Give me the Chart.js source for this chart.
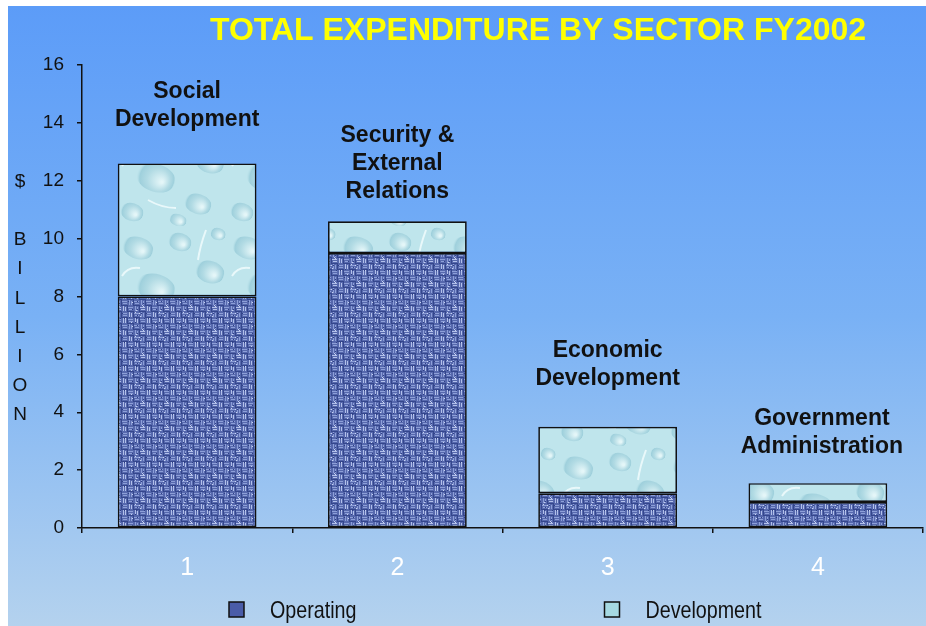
<!DOCTYPE html>
<html>
<head>
<meta charset="utf-8">
<title>Total Expenditure by Sector FY2002</title>
<script src="https://cdn.jsdelivr.net/npm/chart.js@4.4.1/dist/chart.umd.min.js"></script>
<style>
    html, body { margin: 0; padding: 0; background: #ffffff; }
    #wrap { position: absolute; left: 8px; top: 6px; width: 918px; height: 620px; }
</style>
</head>
<body>
<div id="wrap"><canvas id="sectorChart" width="918" height="620"></canvas></div>
<script>
// Chart data
const categories = ['1', '2', '3', '4'];
const sectorNames = [
    ['Social', 'Development'],
    ['Security &', 'External', 'Relations'],
    ['Economic', 'Development'],
    ['Government', 'Administration']
];
const operating = [8.0, 9.5, 1.2, 0.9];
const development = [4.6, 1.1, 2.3, 0.65];
const seriesNames = ['Operating', 'Development'];
const yMin = 0;
const yMax = 16;
const yStep = 2;
const chartTitle = 'TOTAL EXPENDITURE BY SECTOR FY2002';
const axisTitle = ['$', '', 'B', 'I', 'L', 'L', 'I', 'O', 'N'];

const SANS = '"Liberation Sans", Arial, sans-serif';

// small integer hash, used only to vary the texture pixels
function hash(x, y) {
    let h = (x * 374761393 + y * 668265263) | 0;
    h = (h ^ (h >>> 13)) * 1274126177;
    return ((h ^ (h >>> 16)) >>> 0) % 1000 / 1000;
}

// Woven blue texture for the operating part
function makeWovenPattern() {
    const c = document.createElement('canvas');
    c.width = 24; c.height = 24;
    const g = c.getContext('2d');
    g.fillStyle = '#5668ad';
    g.fillRect(0, 0, 24, 24);
    for (let by = 0; by < 4; by++) {
        for (let bx = 0; bx < 4; bx++) {
            const x = bx * 6, y = by * 6;
            const r = hash(bx, by);
            g.fillStyle = r > 0.5 ? '#b2c0ea' : '#8d9fd8';
            if ((bx + by) % 2 === 0) {
                g.fillRect(x, y + 1, 5, 1);
                g.fillRect(x + 1, y + 3, 4, 1);
                g.fillStyle = '#34468c';
                g.fillRect(x, y + 5, 6, 1);
            } else {
                g.fillRect(x + 1, y, 1, 5);
                g.fillRect(x + 3, y + 1, 1, 4);
                g.fillStyle = '#34468c';
                g.fillRect(x + 5, y, 1, 6);
            }
        }
    }
    for (let i = 0; i < 24; i++) {
        const px = Math.floor(hash(i, 7) * 24), py = Math.floor(hash(3, i) * 24);
        g.fillStyle = hash(i, i) > 0.5 ? '#c8d3f2' : '#2e3f86';
        g.fillRect(px, py, 1, 1);
    }
    return g.createPattern(c, 'repeat');
}

// Light water-drop texture for the development part
function makeWaterPattern() {
    const c = document.createElement('canvas');
    c.width = 110; c.height = 110;
    const g = c.getContext('2d');
    g.fillStyle = '#bfe5ec';
    g.fillRect(0, 0, 110, 110);
    const drops = [[20, 22, 16, 11], [62, 16, 12, 9], [92, 46, 15, 11], [38, 62, 20, 14],
                   [80, 88, 14, 10], [14, 96, 12, 9], [60, 104, 9, 6], [100, 8, 8, 6]];
    drops.forEach(function (d) {
        const grad = g.createRadialGradient(d[0] + d[2] * 0.3, d[1] + d[3] * 0.3, 1, d[0], d[1], d[2]);
        grad.addColorStop(0, '#e4f6f8');
        grad.addColorStop(0.55, '#b2dbe4');
        grad.addColorStop(0.85, '#9fd0dc');
        grad.addColorStop(1, 'rgba(191,229,236,0)');
        g.fillStyle = grad;
        g.beginPath();
        g.ellipse(d[0], d[1], d[2], d[3], 0.3, 0, Math.PI * 2);
        g.fill();
    });
    g.strokeStyle = 'rgba(240,252,253,0.85)';
    g.lineWidth = 2;
    g.beginPath();
    g.moveTo(88, 4); g.quadraticCurveTo(82, 20, 80, 34);
    g.moveTo(30, 84); g.quadraticCurveTo(44, 92, 58, 92);
    g.moveTo(4, 50); g.quadraticCurveTo(10, 40, 22, 42);
    g.stroke();
    return g.createPattern(c, 'repeat');
}

const operatingFill = makeWovenPattern();
const developmentFill = makeWaterPattern();

// Background gradient, title, axis title, sector names and legend
const decorations = {
    id: 'decorations',
    beforeDraw(chart) {
        const ctx = chart.ctx;
        const grad = ctx.createLinearGradient(0, 0, 0, chart.height);
        grad.addColorStop(0, '#5c9cf8');
        grad.addColorStop(0.5, '#79b1f5');
        grad.addColorStop(1, '#b4d2ee');
        ctx.save();
        ctx.fillStyle = grad;
        ctx.fillRect(0, 0, chart.width, chart.height);
        ctx.restore();
    },
    afterDatasetsDraw(chart, args, opts) {
        const ctx = chart.ctx;
        const area = chart.chartArea;
        ctx.save();

        // title
        ctx.fillStyle = '#ffff00';
        ctx.font = 'bold 32px ' + SANS;
        ctx.textAlign = 'center';
        ctx.textBaseline = 'alphabetic';
        ctx.fillText(chartTitle, opts.titleX, opts.titleY);

        // vertical axis title, one letter per line
        ctx.fillStyle = '#111111';
        ctx.font = '19px ' + SANS;
        const mid = (area.top + area.bottom) / 2;
        const lh = 29.2;
        axisTitle.forEach(function (ch, i) {
            const y = mid + (i - (axisTitle.length - 1) / 2) * lh;
            ctx.fillText(ch, opts.axisTitleX, y + 7);
        });

        // sector names above the stacked bars
        const meta = chart.getDatasetMeta(chart.data.datasets.length - 1);
        ctx.font = 'bold 23px ' + SANS;
        meta.data.forEach(function (bar, i) {
            const lines = sectorNames[i];
            const base = bar.y - opts.lift[i];
            lines.forEach(function (line, j) {
                const cy = base - (lines.length - 1 - j) * opts.lineHeight;
                ctx.fillText(line, bar.x + opts.shift[i], cy + 8.2);
            });
        });

        // legend, text condensed like the original narrow face
        chart.data.datasets.forEach(function (ds, i) {
            const bx = opts.legendX[i];
            const by = opts.legendY;
            ctx.fillStyle = opts.legendFill[i];
            ctx.fillRect(bx - 7.5, by - 7.5, 15, 15);
            ctx.strokeStyle = '#111111';
            ctx.lineWidth = 1.5;
            ctx.strokeRect(bx - 7.5, by - 7.5, 15, 15);
            ctx.save();
            ctx.translate(bx + 33.5, by + 8.5);
            ctx.scale(0.82, 1);
            ctx.font = '24px ' + SANS;
            ctx.textAlign = 'left';
            ctx.fillStyle = '#111111';
            ctx.fillText(ds.label, 0, 0);
            ctx.restore();
        });
        ctx.restore();
    }
};

const ctx = document.getElementById('sectorChart').getContext('2d');
const sectorChart = new Chart(ctx, {
    type: 'bar',
    data: {
        labels: categories,
        datasets: [{
            label: seriesNames[0],
            data: operating,
            backgroundColor: operatingFill,
            borderColor: '#111111',
            borderWidth: 1.7,
            borderSkipped: false,
            categoryPercentage: 1,
            barPercentage: 0.66
        }, {
            label: seriesNames[1],
            data: development,
            backgroundColor: developmentFill,
            borderColor: '#111111',
            borderWidth: 1.7,
            borderSkipped: false,
            categoryPercentage: 1,
            barPercentage: 0.66
        }]
    },
    options: {
        responsive: false,
        animation: false,
        devicePixelRatio: 1,
        layout: {
            padding: { top: 59, right: 3, bottom: 38, left: 0 }
        },
        scales: {
            x: {
                stacked: true,
                afterFit: function (scale) { scale.height = 60; },
                grid: {
                    offset: true,
                    drawOnChartArea: false,
                    drawTicks: true,
                    tickLength: 5,
                    color: '#111111',
                    lineWidth: 1.5
                },
                border: { color: '#111111', width: 1.5 },
                ticks: {
                    color: '#ffffff',
                    padding: 20,
                    font: { family: SANS, size: 25 }
                }
            },
            y: {
                stacked: true,
                min: yMin,
                max: yMax,
                afterFit: function (scale) { scale.width = 74; },
                grid: {
                    drawOnChartArea: false,
                    drawTicks: true,
                    tickLength: 5,
                    color: '#111111',
                    lineWidth: 1.5
                },
                border: { color: '#111111', width: 1.5 },
                ticks: {
                    stepSize: yStep,
                    color: '#111111',
                    padding: 13,
                    font: { family: SANS, size: 19 }
                }
            }
        },
        plugins: {
            legend: { display: false },
            tooltip: { enabled: false },
            decorations: {
                titleX: 530,
                titleY: 34,
                axisTitleX: 12,
                lift: [46, 31, 50, 38],
                shift: [0, 0, 0, 4],
                lineHeight: 28,
                legendX: [228.5, 604],
                legendY: 603.5,
                legendFill: ['#4a5ca8', '#a6d9e2']
            }
        }
    },
    plugins: [decorations]
});
</script>
</body>
</html>
